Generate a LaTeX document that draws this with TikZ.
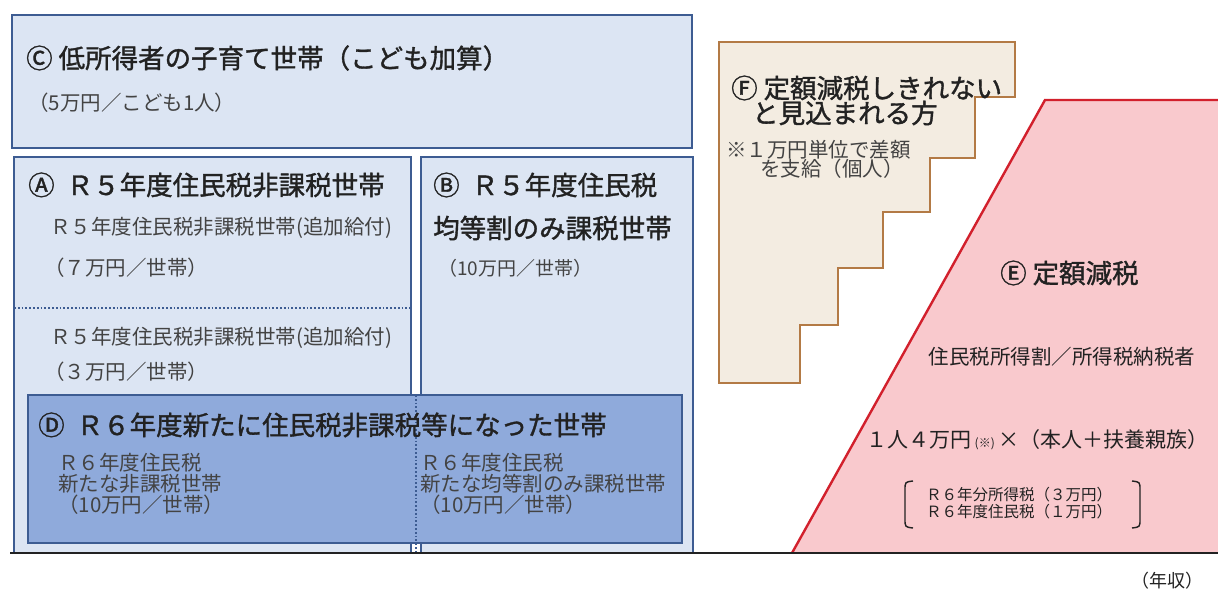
\documentclass[tikz,border=0pt]{standalone}
\usepackage{fontspec}
\setmainfont{Noto Sans CJK JP}
\newfontfamily\jpbold{Noto Sans CJK JP}[FakeBold=1.3]
\definecolor{boxblue}{HTML}{DCE5F3}
\definecolor{deepblue}{HTML}{8FAADB}
\definecolor{edgeblue}{HTML}{3D5C92}
\definecolor{beige}{HTML}{F3ECE1}
\definecolor{brown}{HTML}{B37A45}
\definecolor{pinkfill}{HTML}{F9C9CD}
\definecolor{redline}{HTML}{D2202C}
\definecolor{ink}{HTML}{222222}
\begin{document}
\begin{tikzpicture}[x=1pt,y=-1pt,
  every node/.style={inner sep=0pt,text=ink},
  head/.style={anchor=west,font=\jpbold\fontsize{26.5}{30}\selectfont},
  sub/.style={anchor=west,font=\fontsize{20.5}{23}\selectfont,text=ink!85},
  small/.style={anchor=north west,align=left,font=\fontsize{20.5}{21}\selectfont,text=ink!85},
  panel/.style={draw=edgeblue,line width=2.6pt,fill=boxblue}]
                \useasboundingbox (0,0) rectangle (1218,596);

                % blue boxes
                \draw[panel] (12,15) rectangle (692,148); % C
                \draw[panel] (14,157) rectangle (411,553); % A
                \draw[panel] (421,157) rectangle (693,553); % B
                \draw[edgeblue,line width=1.8pt,dotted] (14,308) -- (411,308);
                \draw[panel,fill=deepblue] (28,395) rectangle (682,543); % D
                \draw[edgeblue,line width=1.8pt,dotted] (416,395) -- (416,553);

                % steps
                \draw[draw=brown,line width=2.4pt,fill=beige]
                (719,42) -- (1015,42) -- (1015,97) -- (975,97) -- (975,158)
                -- (930,158) -- (930,212) -- (883,212) -- (883,268)
                -- (838,268) -- (838,325) -- (800,325) -- (800,383)
                -- (719,383) -- cycle; % F

                % slope
                \fill[pinkfill] (792,553) -- (1045,100) -- (1218,100) -- (1218,553) -- cycle;
                \draw[redline,line width=2.4pt] (792,553) -- (1045,100) -- (1218,100); % E

                % axis
                \draw[ink,line width=2.4pt] (10,553) -- (1218,553);
                \node[anchor=center,font=\fontsize{18}{20}\selectfont] (nensyu) at (1167,581) {（年収）};

                % texts
                \node[head] (ctitle) at (26,58) {Ⓒ 低所得者の子育て世帯（こども加算）};
                \node[sub] (cnote) at (28,103) {（5万円／こども1人）};

                \node[head] (atitle) at (28,185) {Ⓐ\hspace{12pt}Ｒ５年度住民税非課税世帯};
                \node[sub] (aline1) at (50,228) {Ｒ５年度住民税非課税世帯(追加給付)};
                \node[sub] (anote1) at (44,268) {（７万円／世帯）};
                \node[sub] (aline2) at (50,338) {Ｒ５年度住民税非課税世帯(追加給付)};
                \node[sub] (anote2) at (44,372) {（３万円／世帯）};

                \node[head] (btitle) at (433,185) {Ⓑ\hspace{12pt}Ｒ５年度住民税};
                \node[head] (bline) at (433,228) {均等割のみ課税世帯};
                \node[sub,font=\fontsize{19}{22}\selectfont] (bnote) at (438,268) {（10万円／世帯）};

                \node[head] (dtitle) at (38,425) {Ⓓ\hspace{12pt}Ｒ６年度新たに住民税非課税等になった世帯};
                \node[small] (dleft) at (58,453) {Ｒ６年度住民税\\新たな非課税世帯\\（10万円／世帯）};
                \node[small] (dright) at (420,453) {Ｒ６年度住民税\\新たな均等割のみ課税世帯\\（10万円／世帯）};

                \node[head] (ftitle) at (731,88) {Ⓕ 定額減税しきれない};
                \node[head] (fline) at (752,113) {と見込まれる方};
                \node[sub] (fnote1) at (726,150) {※１万円単位で差額};
                \node[sub] (fnote2) at (760,169) {を支給（個人）};

                \node[head] (etitle) at (1000,273) {Ⓔ 定額減税};
                \node[anchor=center,font=\fontsize{20.5}{23}\selectfont] (eline) at (1062,357) {住民税所得割／所得税納税者};
                \node[anchor=west,font=\fontsize{21}{24}\selectfont] (eamount) at (866,440)
                {１人４万円\,{\fontsize{12}{14}\selectfont (※)}\,×（本人＋扶養親族）};
                \node[anchor=center,align=left,font=\fontsize{15.5}{17}\selectfont] (ebreak) at (1019,503)
                {Ｒ６年分所得税（３万円）\\Ｒ６年度住民税（１万円）};

                % brackets
                \draw[ink,line width=1.4pt] (913,481) .. controls (905,482) .. (905,490)
                -- (905,519) .. controls (905,527) .. (913,528);
                \draw[ink,line width=1.4pt] (1132,481) .. controls (1140,482) .. (1140,490)
                -- (1140,519) .. controls (1140,527) .. (1132,528);
            \end{tikzpicture}
\end{document}
